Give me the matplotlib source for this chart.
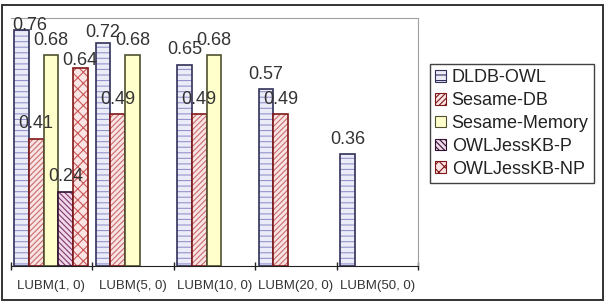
import numpy as np
import matplotlib
matplotlib.use("Agg")
from matplotlib import pyplot as plt
from matplotlib.patches import Rectangle

plt.rcParams['font.family'] = ['Liberation Sans', 'DejaVu Sans']
plt.rcParams['hatch.linewidth'] = 0.8

#########
categories = ["LUBM(1, 0)", "LUBM(5, 0)", "LUBM(10, 0)", "LUBM(20, 0)", "LUBM(50, 0)"]
series_names = ["DLDB-OWL", "Sesame-DB", "Sesame-Memory", "OWLJessKB-P", "OWLJessKB-NP"]
dldb_owl = [0.76, 0.72, 0.65, 0.57, 0.36]
sesame_db = [0.41, 0.49, 0.49, 0.49, None]
sesame_memory = [0.68, 0.68, 0.68, None, None]
owljesskb_p = [0.24, None, None, None, None]
owljesskb_np = [0.64, None, None, None, None]

# fill, hatch, hatch colour, edge colour
styles = [
    ("#ececf8", "---", "#9494cc", "#30305a"),
    ("#f8e4e4", "//////", "#cc6c6c", "#801818"),
    ("#ffffcc", "", "#ffffcc", "#505030"),
    ("#f0d8e8", "\\\\\\\\\\\\", "#803870", "#301030"),
    ("#fbe4e4", "xxx", "#cc5858", "#801818"),
]

# value label nudges in pixels (dx, distance above bar top)
label_nudge = {(0, 0): (8, 5), (0, 1): (0, 10), (4, 0): (0, 7)}

#########
fig = plt.figure(figsize=(6.09, 3.03), dpi=100)
fig.patches.append(Rectangle((2 / 609, 3 / 303), 601 / 609, 295 / 303, transform=fig.transFigure,
                             fill=False, edgecolor="#333333", linewidth=1.4))
ax = fig.add_axes([10.5 / 609, 37 / 303, 407.5 / 609, 248 / 303])

all_series = [dldb_owl, sesame_db, sesame_memory, owljesskb_p, owljesskb_np]
width = 0.18
offset = 0.045
px = 1 / 1.389  # pixels -> points

handles = []
for s, values in enumerate(all_series):
    fill, hatch, hcol, ecol = styles[s]
    for g, v in enumerate(values):
        if v is None:
            continue
        x0 = g + offset + s * width
        ax.bar(x0, v, width, align="edge", color=fill, hatch=hatch, edgecolor=hcol, linewidth=0)
        ax.bar(x0, v, width, align="edge", fill=False, edgecolor=ecol, linewidth=1.2)
        dx, dy = label_nudge.get((s, g), (0, 15))
        ax.annotate("%.2f" % v, (x0 + width / 2, v), xytext=(dx * px, dy * px),
                    textcoords="offset points", ha="center", va="center",
                    fontsize=13, color="#333333")
    handles.append(Rectangle((0, 0), 1, 1, facecolor=fill, hatch=hatch, edgecolor=ecol, linewidth=0.8))

ax.set_xlim(0, 5)
ax.set_ylim(0, 0.8)
ax.set_yticks([])
ax.set_xticks(range(6))
ax.set_xticklabels([])
ax.set_xticks(np.arange(5) + 0.5, minor=True)
ax.set_xticklabels(categories, minor=True, fontsize=9.5, color="#333333")
ax.tick_params(axis="x", which="major", direction="inout", length=6, width=1, color="#222222")
ax.tick_params(axis="x", which="minor", length=0, pad=10)
ax.spines["left"].set_visible(False)
ax.spines["top"].set_color("#a0a0a0")
ax.spines["right"].set_color("#a0a0a0")
ax.spines["bottom"].set_color("#222222")

leg = fig.legend(handles, series_names, loc="upper left", bbox_to_anchor=(430 / 609, 239 / 303),
                 borderaxespad=0, fontsize=13, frameon=True, fancybox=False,
                 handlelength=0.6, handleheight=0.6, handletextpad=0.3,
                 labelspacing=0.32, borderpad=0.3)
leg.get_frame().set_edgecolor("#111111")
leg.get_frame().set_linewidth(1.0)
for t in leg.get_texts():
    t.set_color("#222222")

plt.savefig("out.png", dpi=100)
plt.close()
